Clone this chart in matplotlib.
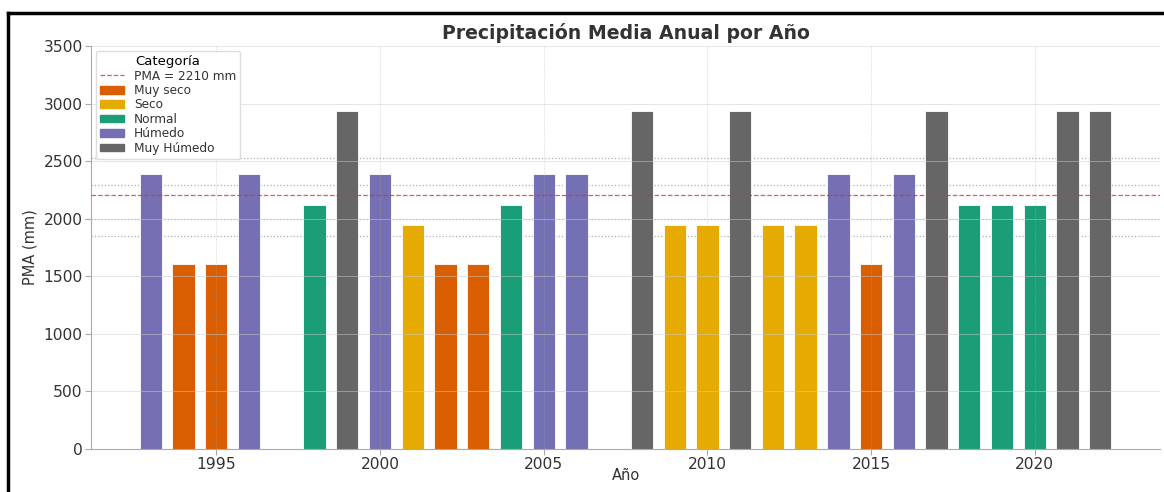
import matplotlib
matplotlib.use("Agg")
import matplotlib.pyplot as plt
from matplotlib.patches import Patch
from matplotlib.lines import Line2D

# datos
years = [1993, 1994, 1995, 1996, 1998, 1999, 2000, 2001, 2002, 2003, 2004,
         2005, 2006, 2008, 2009, 2010, 2011, 2012, 2013, 2014, 2015, 2016,
         2017, 2018, 2019, 2020, 2021, 2022]
cats = ['Húmedo', 'Muy seco', 'Muy seco', 'Húmedo', 'Normal', 'Muy Húmedo',
        'Húmedo', 'Seco', 'Muy seco', 'Muy seco', 'Normal', 'Húmedo', 'Húmedo',
        'Muy Húmedo', 'Seco', 'Seco', 'Muy Húmedo', 'Seco', 'Seco', 'Húmedo',
        'Muy seco', 'Húmedo', 'Muy Húmedo', 'Normal', 'Normal', 'Normal',
        'Muy Húmedo', 'Muy Húmedo']
cat_names = ['Muy seco', 'Seco', 'Normal', 'Húmedo', 'Muy Húmedo']
cat_values = [1610, 1945, 2120, 2390, 2935]
cat_colors = ['#d95f02', '#e6ab02', '#1b9e77', '#7570b3', '#666666']
pma = 2210
umbrales = [1848, 2000, 2290, 2525]

val = dict(zip(cat_names, cat_values))
col = dict(zip(cat_names, cat_colors))
heights = [val[c] for c in cats]
colors = [col[c] for c in cats]

fig = plt.figure(figsize=(11.64, 4.92), dpi=100)
ax = fig.add_axes([0.0782, 0.0874, 0.9184, 0.8191])

ax.bar(years, heights, width=0.68, color=colors, edgecolor='white',
       linewidth=0.6, zorder=2)
for u in umbrales:
    ax.axhline(u, color='#999999', linestyle=':', linewidth=0.9, alpha=0.8, zorder=1)
ax.axhline(pma, color='#e03030', linestyle='--', linewidth=0.9, alpha=0.8, zorder=3)

ax.set_ylim(0, 3500)
ax.set_yticks(range(0, 3501, 500))
ax.set_xticks([1995, 2000, 2005, 2010, 2015, 2020])
ax.grid(True, color='#cccccc', linestyle='-', linewidth=0.6, alpha=0.6)
ax.grid(True, axis='x', linestyle=':', color='#aaaaaa')
ax.set_axisbelow(False)
for s in ['top', 'right']:
    ax.spines[s].set_visible(False)
for s in ['left', 'bottom']:
    ax.spines[s].set_color('#aaaaaa')
ax.tick_params(axis='both', colors='#aaaaaa', labelcolor='#333333',
               labelsize=11.2, length=4, pad=2)

ax.set_title('Precipitación Media Anual por Año', fontsize=13.6, fontweight='bold',
             color='#333333', pad=5)
ax.set_xlabel('Año', fontsize=10.5, color='#333333', labelpad=-3)
ax.set_ylabel('PMA (mm)', fontsize=10.5, color='#333333', labelpad=4)

handles = [Line2D([0], [0], color='#e03030', linestyle='--', linewidth=0.9, alpha=0.8)]
handles += [Patch(color=c) for c in cat_colors]
labels = ['PMA = %d mm' % pma] + cat_names
leg = ax.legend(handles, labels, title='Categoría', loc='upper left',
                fontsize=8.7, title_fontsize=9.5, labelspacing=0.12,
                borderaxespad=0.4, borderpad=0.35, framealpha=1,
                edgecolor='#dddddd', handleheight=0.6)
for t in leg.get_texts():
    t.set_color('#333333')

# marco negro de la captura
fig.add_artist(Line2D([0.0065, 1.0], [0.973, 0.973], color='black', linewidth=2.5,
                      transform=fig.transFigure))
fig.add_artist(Line2D([0.0068, 0.0068], [0.0, 0.973], color='black', linewidth=2.5,
                      transform=fig.transFigure))

fig.savefig('out.png', dpi=100)
